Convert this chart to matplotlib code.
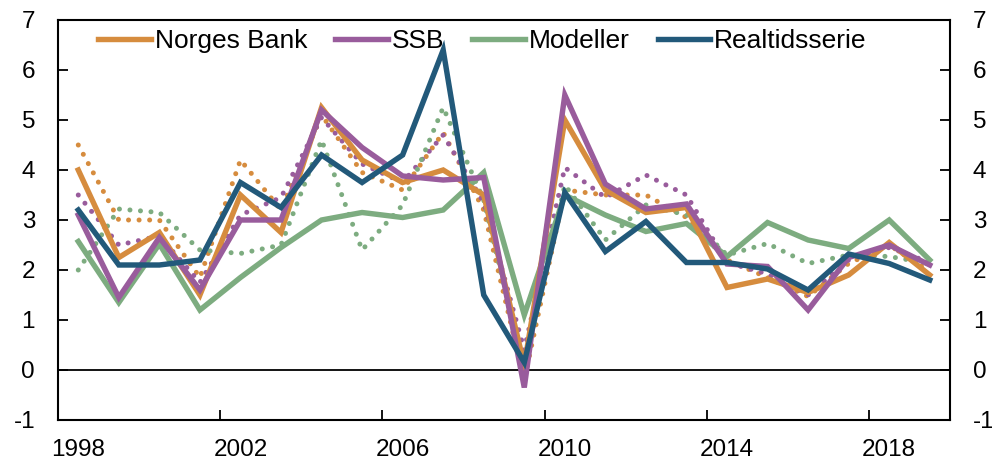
import matplotlib
matplotlib.use("Agg")
import matplotlib.pyplot as plt
import numpy as np

years = list(range(1998, 2020))
tick_years = [1998, 2002, 2006, 2010, 2014, 2018]

norges_bank = [4.0, 2.25, 2.75, 1.5, 3.5, 2.75, 5.25, 4.2, 3.75, 4.0, 3.5, 0.1,
               5.0, 3.6, 3.15, 3.25, 1.65, 1.82, 1.55, 1.9, 2.55, 1.9]
ssb = [3.1, 1.45, 2.65, 1.6, 3.0, 3.0, 5.2, 4.45, 3.88, 3.8, 3.85, -0.35,
       5.5, 3.72, 3.22, 3.32, 2.12, 2.07, 1.2, 2.25, 2.5, 2.1]
modeller = [2.57, 1.35, 2.52, 1.2, 1.85, 2.45, 3.0, 3.15, 3.05, 3.2, 3.95, 1.1,
            3.5, 3.1, 2.77, 2.93, 2.27, 2.95, 2.6, 2.43, 3.0, 2.2]
realtid = [3.2, 2.1, 2.1, 2.2, 3.75, 3.25, 4.3, 3.75, 4.3, 6.4, 1.5, 0.15,
           3.55, 2.37, 2.97, 2.15, 2.15, 2.02, 1.6, 2.32, 2.13, 1.8]

norges_bank_dot = [4.5, 3.0, 3.0, 1.85, 4.2, 3.2, 5.1, 3.95, 3.6, 4.75, 3.2, -0.2,
                   3.6, 3.5, 3.5, 3.05, 2.2, 1.85, 1.47, 2.13, 2.5, 1.97]
ssb_dot = [3.5, 2.5, 2.68, 1.75, 3.1, 3.45, 5.05, 4.12, 3.75, 4.7, 3.35, 0.4,
           4.05, 3.45, 3.9, 3.5, 2.15, 1.92, 1.5, 2.2, 2.45, 2.15]
modeller_dot = [2.0, 3.22, 3.15, 2.4, 2.33, 2.5, 4.6, 2.4, 3.3, 5.25, 3.4, 0.0,
                3.7, 2.6, 3.3, 3.1, 2.3, 2.53, 2.13, 2.3, 2.27, 2.13]

c_nb = "#D68C3E"
c_ssb = "#995C9C"
c_mod = "#7DAC80"
c_rt = "#22597A"

plt.rcParams['font.family'] = ['Liberation Sans', 'DejaVu Sans']

fig = plt.figure(figsize=(9.92, 4.66), dpi=100)
ax = fig.add_axes([58/992, 46/466, 892/992, 400/466])

x = np.arange(len(years))
dot_style = dict(linestyle=(0, (0.01, 2.1)), linewidth=3.6, dash_capstyle='round')
ax.plot(x, norges_bank_dot, color=c_nb, **dot_style)
ax.plot(x, ssb_dot, color=c_ssb, **dot_style)
ax.plot(x, modeller_dot, color=c_mod, **dot_style)

lw = 3.9
ax.plot(x, modeller, color=c_mod, lw=lw, label="Modeller", solid_joinstyle='miter')
ax.plot(x, norges_bank, color=c_nb, lw=lw, label="Norges Bank", solid_joinstyle='miter')
ax.plot(x, ssb, color=c_ssb, lw=lw, label="SSB", solid_joinstyle='miter')
ax.plot(x, realtid, color=c_rt, lw=lw, label="Realtidsserie", solid_joinstyle='miter')

ax.axhline(0, color='black', lw=1.3, zorder=1)

ax.set_xlim(-0.5, len(years) - 0.5)
ax.set_ylim(-1, 7)
ax.set_yticks(range(-1, 8))
ax.set_yticklabels([str(v) for v in range(-1, 8)])

ax.set_xticks([years.index(y) for y in tick_years])
ax.set_xticklabels([str(y) for y in tick_years])
ax.tick_params(axis='x', which='major', length=0, pad=14, labelsize=17.5)
ax.set_xticks([i + 0.5 for i in range(3, len(years) - 1, 4)], minor=True)
ax.tick_params(axis='x', which='minor', direction='in', length=7, width=1.3)

ax.tick_params(axis='y', direction='in', length=7, width=1.3, labelsize=17.5,
               left=True, right=True, labelleft=True, labelright=True, pad=16.5)

for s in ax.spines.values():
    s.set_linewidth(1.5)

handles, labels = ax.get_legend_handles_labels()
order = ["Norges Bank", "SSB", "Modeller", "Realtidsserie"]
hd = dict(zip(labels, handles))
leg = ax.legend([hd[l] for l in order], order, loc='center',
                bbox_to_anchor=(0.476, 0.9475), ncol=4, frameon=False,
                fontsize=19, handlelength=2.0, handletextpad=0.15,
                columnspacing=1.05, borderaxespad=0)

fig.savefig("out.png", dpi=100)
